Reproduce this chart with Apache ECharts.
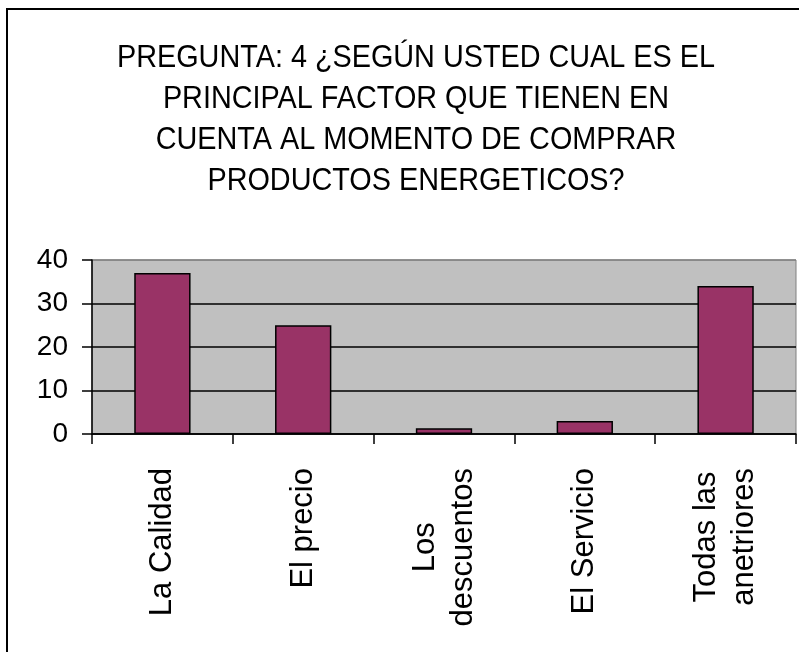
<!DOCTYPE html>
<html><head><meta charset="utf-8">
<script src="https://cdn.jsdelivr.net/npm/echarts@6/dist/echarts.min.js"></script>
<style>html,body{margin:0;padding:0;background:#fff}#c{width:799px;height:652px}</style>
</head><body><div id="c"></div>
<script>
const titleLines = ["PREGUNTA: 4 ¿SEGÚN USTED CUAL ES EL","PRINCIPAL FACTOR QUE TIENEN EN","CUENTA AL MOMENTO DE COMPRAR","PRODUCTOS ENERGETICOS?"];
const categories = ["La Calidad","El precio","Los\ndescuentos","El Servicio","Todas las\nanetriores"];
const values = [37, 25, 1.3, 3, 34];
const yTicks = [0, 10, 20, 30, 40];

const FONT = '"Liberation Sans", Arial, sans-serif';
const chart = echarts.init(document.getElementById('c'), null, {renderer:'canvas'});
chart.setOption({
  animation:false,
  backgroundColor:'#fff',
  graphic:[
    {type:'rect', shape:{x:7,y:9,width:900,height:800}, style:{fill:'none',stroke:'#000',lineWidth:2}, z:0},
    {type:'text', x:416, y:38, scaleX:0.9, originX:0, style:{text:titleLines.join('\n'), fill:'#000', font:'32px ' + FONT, align:'center', verticalAlign:'top', lineHeight:41}}
  ],
  grid:{left:92,right:3,top:260,bottom:218,show:true,backgroundColor:'#c0c0c0',borderColor:'#808080',borderWidth:1},
  xAxis:{type:'category',data:categories,boundaryGap:true,
    axisLine:{lineStyle:{color:'#000',width:1.5}},
    axisTick:{show:true,length:10,inside:false,lineStyle:{color:'#000',width:1.5}},
    axisLabel:{rotate:90,margin:34,color:'#000',fontSize:31,fontFamily:FONT,lineHeight:38,interval:0,align:'right',verticalAlign:'middle',
      formatter:function(v){return v.split('\n').map(function(s){return '{c|'+s+'}';}).join('\n');},
      rich:{c:{align:'center',fontSize:31,fontFamily:FONT,lineHeight:38,color:'#000'}}}},
  yAxis:{type:'value',min:yTicks[0],max:yTicks[yTicks.length-1],interval:10,
    axisLine:{show:true,lineStyle:{color:'#000',width:1.5}},
    axisTick:{show:true,length:10,lineStyle:{color:'#000',width:1.5}},
    axisLabel:{margin:24,color:'#000',fontSize:28,fontFamily:FONT},
    splitLine:{show:true,lineStyle:{color:['#000','#000','#000','#000','#808080'],width:1.5}}},
  series:[{type:'bar',data:values,barCategoryGap:'60%',
    itemStyle:{color:'#993366',borderColor:'#000',borderWidth:1.5}}]
});
</script></body></html>
